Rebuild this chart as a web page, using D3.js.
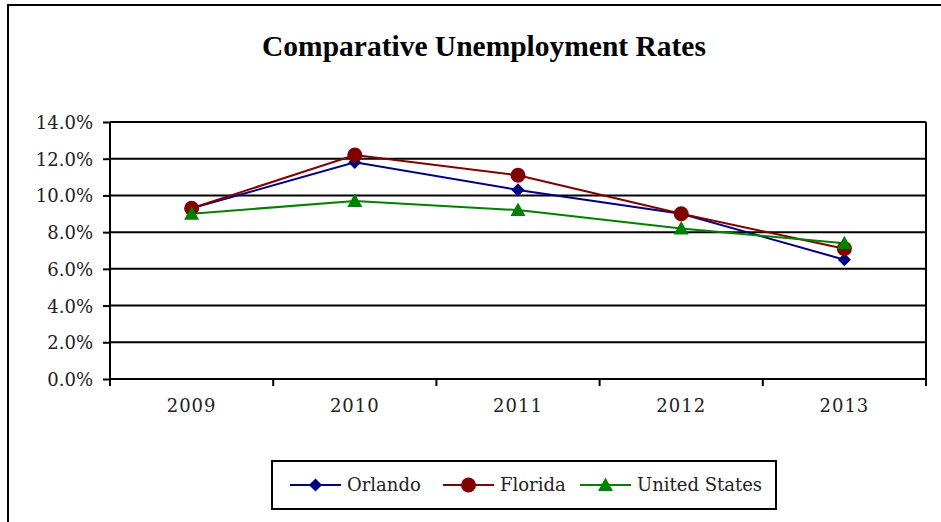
<!DOCTYPE html>
<html>
<head>
<meta charset="utf-8">
<script src="https://cdn.jsdelivr.net/npm/d3@7"></script>
<style>
  html, body { margin: 0; padding: 0; background: #fff; }
  svg { display: block; }
</style>
</head>
<body>
<svg id="chart" width="941" height="522"></svg>
<script>
const years = ["2009", "2010", "2011", "2012", "2013"];
const orlando = [9.3, 11.8, 10.3, 9.0, 6.5];
const florida = [9.3, 12.2, 11.1, 9.0, 7.1];
const unitedStates = [9.0, 9.7, 9.2, 8.2, 7.4];
const yTicks = [0, 2, 4, 6, 8, 10, 12, 14];
const seriesNames = ["Orlando", "Florida", "United States"];
const chartTitle = "Comparative Unemployment Rates";

const series = [
  { name: seriesNames[0], values: orlando, color: "#000080", marker: "diamond" },
  { name: seriesNames[1], values: florida, color: "#800000", marker: "circle" },
  { name: seriesNames[2], values: unitedStates, color: "#008000", marker: "triangle" }
];

const svg = d3.select("#chart");
const font = "'DejaVu Serif', serif";

// outer frame (extends beyond right/bottom edges)
svg.append("rect")
  .attr("x", 8).attr("y", 5).attr("width", 960).attr("height", 560)
  .attr("fill", "#fff").attr("stroke", "#000").attr("stroke-width", 2);

// title
const title = svg.append("text")
  .attr("x", 484).attr("y", 56)
  .attr("text-anchor", "middle")
  .attr("font-family", "'Liberation Serif', serif").attr("font-weight", "bold")
  .attr("font-size", 26).attr("fill", "#000")
  .text(chartTitle);
const tw = title.node().getComputedTextLength();
title.attr("font-size", 26 * 444 / tw);

const plot = { left: 110, right: 926, top: 122, bottom: 379 };

const x = d3.scaleBand().domain(years).range([plot.left, plot.right]);
const y = d3.scaleLinear().domain([0, 14]).range([plot.bottom, plot.top]);

// gridlines
svg.append("g").selectAll("line").data(yTicks.filter(d => d > 0)).join("line")
  .attr("x1", plot.left).attr("x2", plot.right)
  .attr("y1", d => y(d)).attr("y2", d => y(d))
  .attr("stroke", "#000").attr("stroke-width", 2);

// right border
svg.append("line")
  .attr("x1", plot.right).attr("x2", plot.right)
  .attr("y1", plot.top).attr("y2", plot.bottom)
  .attr("stroke", "#000").attr("stroke-width", 2);

// y axis
const yAxis = d3.axisLeft(y).tickValues(yTicks)
  .tickFormat(d => d3.format(".1f")(d) + "%").tickSize(7).tickPadding(10);
const gy = svg.append("g").attr("transform", `translate(${plot.left},0)`).call(yAxis);
gy.select(".domain").attr("stroke", "#000").attr("stroke-width", 2)
  .attr("d", `M0,${plot.top}V${plot.bottom + 7}`);
gy.selectAll(".tick line").attr("stroke", "#000").attr("stroke-width", 2);
gy.selectAll(".tick text").attr("font-family", font).attr("font-size", 18)
  .attr("fill", "#222").attr("dy", "0.36em");

// x axis
const xAxis = d3.axisBottom(x).tickSize(0).tickPadding(20);
const gx = svg.append("g").attr("transform", `translate(0,${plot.bottom})`).call(xAxis);
gx.select(".domain").attr("stroke", "#000").attr("stroke-width", 2)
  .attr("d", `M${plot.left},0H${plot.right}`);
gx.selectAll(".tick text").attr("font-family", font).attr("font-size", 18)
  .attr("fill", "#222").attr("letter-spacing", 1);
// category boundary ticks
const bounds = years.map(d => x(d)).concat([x(years[years.length - 1]) + x.bandwidth()]);
gx.append("g").selectAll("line").data(bounds).join("line")
  .attr("x1", d => d).attr("x2", d => d).attr("y1", 0).attr("y2", 7)
  .attr("stroke", "#000").attr("stroke-width", 2);

const cx = d => x(d) + x.bandwidth() / 2;

function drawMarker(g, type, color) {
  if (type === "diamond") {
    g.append("path").attr("d", d3.symbol(d3.symbolDiamond2, 110)()).attr("fill", color);
  } else if (type === "circle") {
    g.append("circle").attr("r", 7.5).attr("fill", color);
  } else {
    g.append("path").attr("d", "M0,-7.5L7.5,6L-7.5,6Z").attr("fill", color);
  }
}

const line = d3.line().x(d => cx(d.year)).y(d => y(d.value));

series.forEach(s => {
  const pts = years.map((yr, i) => ({ year: yr, value: s.values[i] }));
  svg.append("path").datum(pts)
    .attr("fill", "none").attr("stroke", s.color).attr("stroke-width", 2)
    .attr("d", line);
});
series.forEach(s => {
  const pts = years.map((yr, i) => ({ year: yr, value: s.values[i] }));
  pts.forEach(p => {
    const g = svg.append("g").attr("transform", `translate(${cx(p.year)},${y(p.value)})`);
    drawMarker(g, s.marker, s.color);
  });
});

// legend
const legend = svg.append("g");
legend.append("rect").attr("x", 272).attr("y", 461).attr("width", 504).attr("height", 48)
  .attr("fill", "#fff").attr("stroke", "#000").attr("stroke-width", 2);
const legendX = [290, 443, 580];
series.forEach((s, i) => {
  const g = legend.append("g").attr("transform", `translate(${legendX[i]},485)`);
  g.append("line").attr("x1", 0).attr("x2", 51).attr("y1", 0).attr("y2", 0)
    .attr("stroke", s.color).attr("stroke-width", 2);
  const m = g.append("g").attr("transform", "translate(25.5,0)");
  drawMarker(m, s.marker, s.color);
  g.append("text").attr("x", 57).attr("y", 0).attr("dy", "0.36em")
    .attr("font-family", font).attr("font-size", 18).attr("fill", "#222")
    .text(s.name);
});
</script>
</body>
</html>
